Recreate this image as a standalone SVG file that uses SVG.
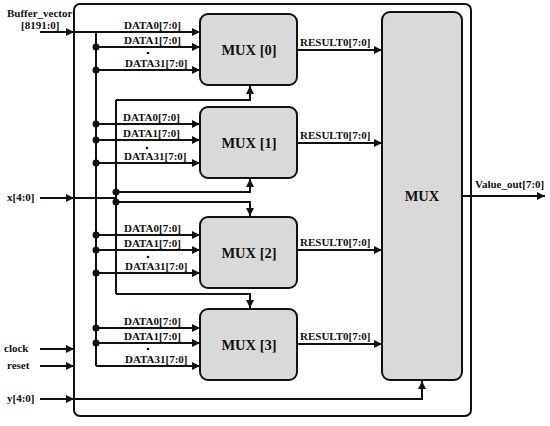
<svg xmlns="http://www.w3.org/2000/svg" width="550" height="426" viewBox="0 0 550 426">
<defs>
<marker id="ah" viewBox="0 0 10 10" refX="10" refY="5" markerWidth="9" markerHeight="8" markerUnits="userSpaceOnUse" orient="auto"><path d="M0,0 L10,5 L0,10 z" fill="#111"/></marker>
<style>
.w{fill:none;stroke:#111;stroke-width:2}
.a{fill:none;stroke:#111;stroke-width:2;marker-end:url(#ah)}
.box{fill:#d9d9d9;stroke:#111;stroke-width:2}
.t{font-family:"Liberation Serif",serif;font-weight:bold;font-size:11px;fill:#111}
.m{font-family:"Liberation Serif",serif;font-weight:bold;font-size:14.5px;fill:#111;text-anchor:middle}
.d{fill:#111}
</style>
</defs>
<rect x="74" y="4" width="397" height="412" rx="6" fill="#fff" stroke="#111" stroke-width="2"/>
<g id="mux0"><rect class="box" x="200" y="14" width="97" height="71" rx="8"/><text class="m" x="249" y="55">MUX [0]</text></g>
<g id="mux1"><rect class="box" x="200" y="107" width="97" height="71" rx="8"/><text class="m" x="249" y="148">MUX [1]</text></g>
<g id="mux2"><rect class="box" x="200" y="217" width="97" height="71" rx="8"/><text class="m" x="249" y="258">MUX [2]</text></g>
<g id="mux3"><rect class="box" x="200" y="309" width="97" height="71" rx="8"/><text class="m" x="249" y="350">MUX [3]</text></g>
<g id="bigmux"><rect class="box" x="382" y="12" width="80" height="368" rx="8"/><text class="m" x="422" y="201">MUX</text></g>
<g id="connectors">
<path class="a" d="M40,32 H74"/>
<path class="a" d="M74,32 H200"/>
<path class="w" d="M96,32 V366"/>
<path class="a" d="M96,47 H200"/>
<path class="a" d="M96,70 H200"/>
<path class="a" d="M96,124 H200"/>
<path class="a" d="M96,140 H200"/>
<path class="a" d="M96,163 H200"/>
<path class="a" d="M96,235 H200"/>
<path class="a" d="M96,250 H200"/>
<path class="a" d="M96,273 H200"/>
<path class="a" d="M96,328 H200"/>
<path class="a" d="M96,343 H200"/>
<path class="a" d="M96,366 H200"/>
<path class="a" d="M40,198 H74"/>
<path class="w" d="M74,198 H116"/>
<path class="w" d="M116,100 V294"/>
<path class="a" d="M116,100 H250 V86"/>
<path class="a" d="M116,192 H250 V179"/>
<path class="a" d="M116,202 H250 V216"/>
<path class="a" d="M116,294 H250 V308"/>
<path class="a" d="M40,349 H74"/>
<path class="a" d="M40,366 H74"/>
<path class="a" d="M40,399 H74"/>
<path class="a" d="M74,399 H422 V381"/>
<path class="a" d="M297,50 H382"/>
<path class="a" d="M297,143 H382"/>
<path class="a" d="M297,250 H382"/>
<path class="a" d="M297,344 H382"/>
<path class="a" d="M462,196 H545"/>
<circle class="d" cx="96" cy="47" r="3.5"/><circle class="d" cx="96" cy="70" r="3.5"/>
<circle class="d" cx="96" cy="124" r="3.5"/><circle class="d" cx="96" cy="140" r="3.5"/><circle class="d" cx="96" cy="163" r="3.5"/>
<circle class="d" cx="96" cy="235" r="3.5"/><circle class="d" cx="96" cy="250" r="3.5"/><circle class="d" cx="96" cy="273" r="3.5"/>
<circle class="d" cx="96" cy="328" r="3.5"/><circle class="d" cx="96" cy="343" r="3.5"/>
<circle class="d" cx="116" cy="192" r="3.5"/><circle class="d" cx="116" cy="202" r="3.5"/>
</g>
<g id="labels">
<text class="t" x="7" y="17">Buffer_vector</text>
<text class="t" x="21" y="29">[8191:0]</text>
<text class="t" x="7" y="201">x[4:0]</text>
<text class="t" x="4" y="352">clock</text>
<text class="t" x="7" y="369">reset</text>
<text class="t" x="7" y="402">y[4:0]</text>
<text class="t" x="124" y="29">DATA0[7:0]</text>
<text class="t" x="124" y="44">DATA1[7:0]</text>
<circle class="d" cx="148" cy="53" r="1.3"/>
<text class="t" x="125" y="67">DATA31[7:0]</text>
<text class="t" x="123" y="121">DATA0[7:0]</text>
<text class="t" x="123" y="137">DATA1[7:0]</text>
<circle class="d" cx="147" cy="148" r="1.3"/>
<text class="t" x="124" y="160">DATA31[7:0]</text>
<text class="t" x="124" y="232">DATA0[7:0]</text>
<text class="t" x="124" y="247">DATA1[7:0]</text>
<circle class="d" cx="148" cy="257" r="1.3"/>
<text class="t" x="125" y="270">DATA31[7:0]</text>
<text class="t" x="124" y="325">DATA0[7:0]</text>
<text class="t" x="124" y="340">DATA1[7:0]</text>
<circle class="d" cx="148" cy="349" r="1.3"/>
<text class="t" x="125" y="363">DATA31[7:0]</text>
<text class="t" x="300" y="46">RESULT0[7:0]</text>
<text class="t" x="300" y="139">RESULT0[7:0]</text>
<text class="t" x="300" y="246">RESULT0[7:0]</text>
<text class="t" x="300" y="340">RESULT0[7:0]</text>
<text class="t" x="475" y="188">Value_out[7:0]</text>
</g>
</svg>
